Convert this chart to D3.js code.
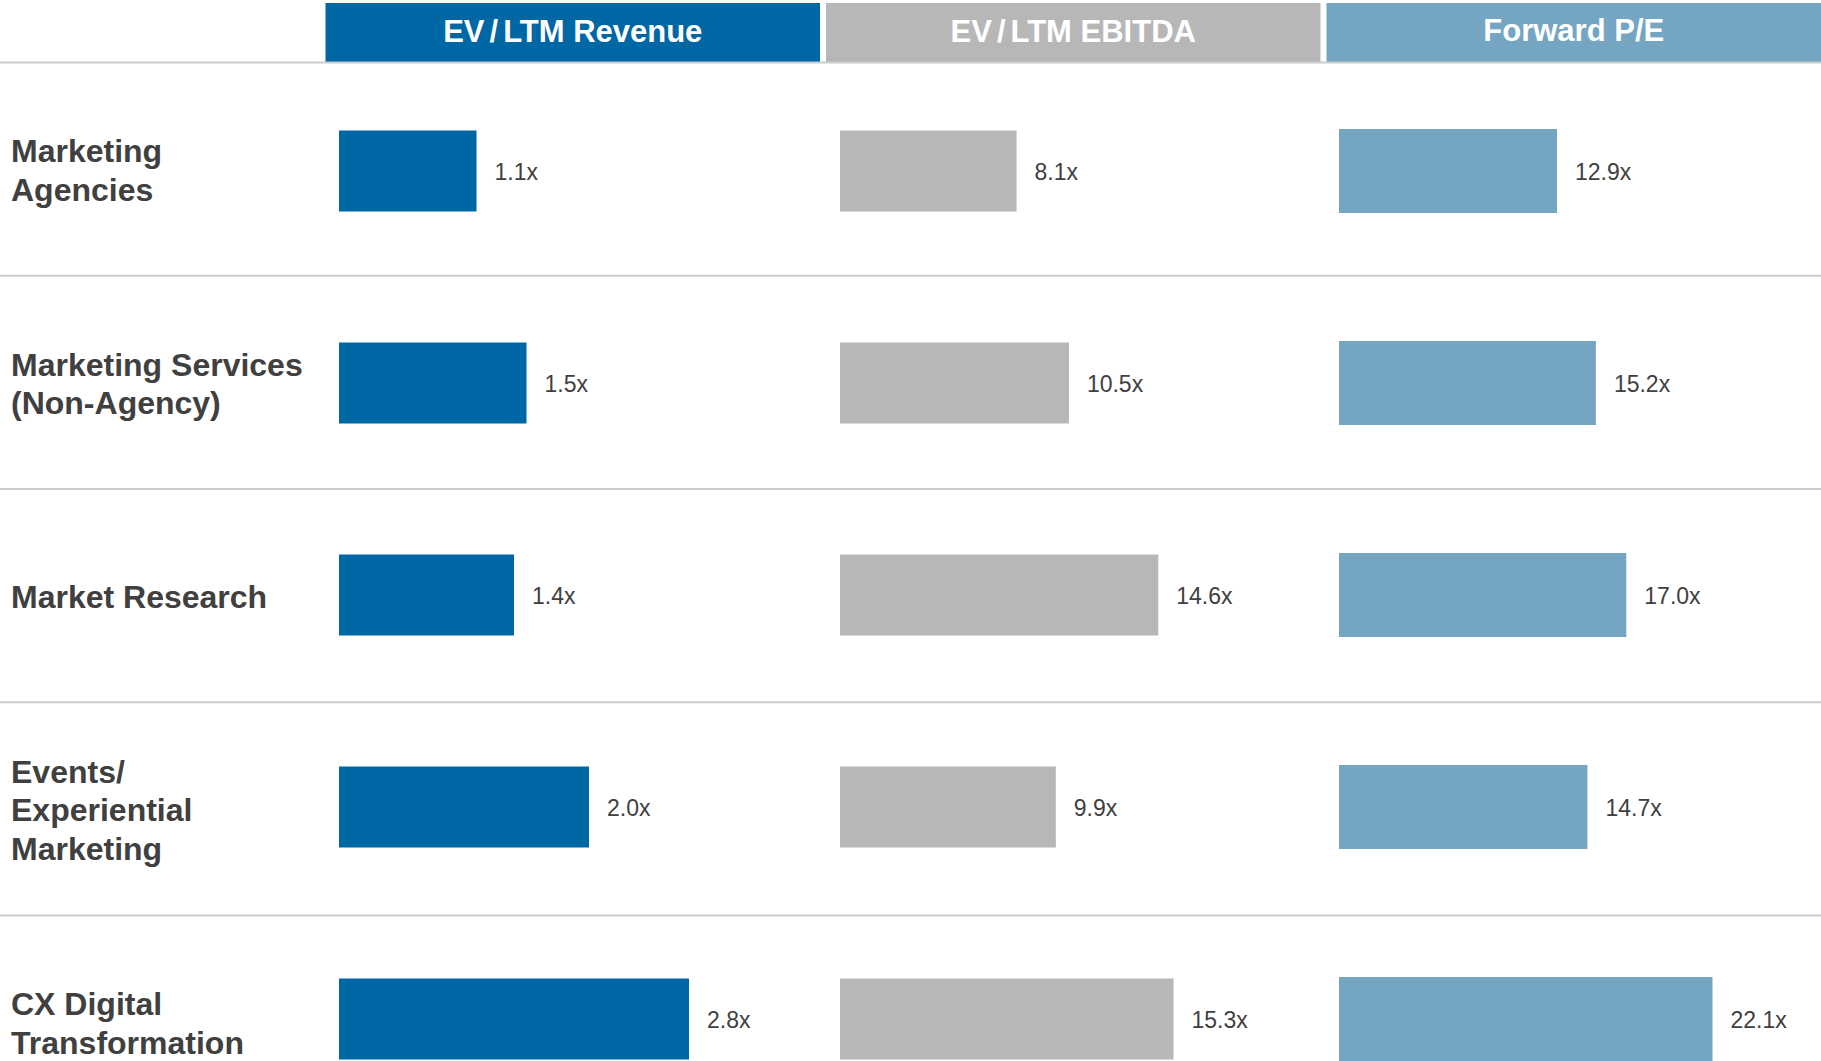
<!DOCTYPE html>
<html>
<head>
<meta charset="utf-8">
<script src="https://cdn.jsdelivr.net/npm/d3@7"></script>
<style>
  html, body { margin: 0; padding: 0; background: #fff; }
  svg { display: block; font-family: "Liberation Sans", Arial, sans-serif; }
</style>
</head>
<body>
<svg id="chart" width="1821" height="1061"></svg>
<script>
// row categories (label lines as shown on the slide)
const categories = ['Marketing Agencies', 'Marketing Services (Non-Agency)', 'Market Research',
    'Events/ Experiential Marketing', 'CX Digital Transformation'];
const categoryLines = [
    ['Marketing', 'Agencies'],
    ['Marketing Services', '(Non-Agency)'],
    ['Market Research'],
    ['Events/', 'Experiential', 'Marketing'],
    ['CX Digital', 'Transformation']
];

// column headers
const metrics = ['EV/LTM Revenue', 'EV/LTM EBITDA', 'Forward P/E'];

// multiples per category
const evRevenue = [1.1, 1.5, 1.4, 2.0, 2.8];
const evEbitda = [8.1, 10.5, 14.6, 9.9, 15.3];
const forwardPE = [12.9, 15.2, 17.0, 14.7, 22.1];

const series = [evRevenue, evEbitda, forwardPE];
const colors = ['#0067a5', '#b7b7b7', '#74a6c4'];

const width = 1821;
const headerTop = 3, headerBottom = 62;
const rowHeight = 213.25;
const textColor = '#404040';

const svg = d3.select('#chart');

// header column bands
const colX = d3.scaleOrdinal()
    .domain(metrics)
    .range([325.5, 826, 1326.5]);
const colW = 494.5;

// row bands (rules + labels)
const y = d3.scaleBand()
    .domain(categories)
    .range([headerBottom, headerBottom + rowHeight * categories.length])
    .padding(0);

// bar centres sit on a slightly tighter pitch than the rules
const yBar = d3.scalePoint()
    .domain(categories)
    .range([171, 171 + 212 * (categories.length - 1)]);

// per-column value scales (each column has its own scale on the slide)
const xScales = [
    d3.scaleLinear().domain([0, 3]).range([0, 375]),
    d3.scaleLinear().domain([0, 20]).range([0, 436]),
    d3.scaleLinear().domain([0, 25]).range([0, 422.5])
];
const barStart = [339, 840, 1339];
const barHeights = [81, 81, 84];

// header cells
let header = svg.append('g');
header.selectAll('rect')
    .data(metrics)
    .join('rect')
    .attr('x', d => colX(d))
    .attr('y', headerTop)
    .attr('width', colW)
    .attr('height', headerBottom - headerTop)
    .attr('fill', (d, i) => colors[i]);

let headerText = header.selectAll('text')
    .data(metrics)
    .join('text')
    .attr('x', d => colX(d) + colW / 2)
    .attr('y', 30.5)
    .attr('text-anchor', 'middle')
    .attr('dominant-baseline', 'central')
    .attr('fill', '#fff')
    .style('font-size', '31px')
    .style('font-weight', 'bold');

// the EV headers have a bit of air around the slash
headerText.each(function(d) {
    let t = d3.select(this);
    if (d.startsWith('EV/')) {
        let parts = d.split('/');
        t.append('tspan').text(parts[0]);
        t.append('tspan').attr('dx', 5).text('/');
        t.append('tspan').attr('dx', 5).text(parts[1]);
    } else {
        t.text(d);
    }
});

// horizontal rules: under header and between rows
let rules = [headerBottom].concat(categories.slice(1).map(c => y(c)));
svg.append('g')
    .selectAll('line')
    .data(rules)
    .join('line')
    .attr('x1', 0)
    .attr('x2', width)
    .attr('y1', d => d + 0.5)
    .attr('y2', d => d + 0.5)
    .attr('stroke', '#cbcbcb')
    .attr('stroke-width', 2);

// row labels
let labels = svg.append('g')
    .selectAll('text')
    .data(categories)
    .join('text')
    .attr('x', 11)
    .attr('fill', textColor)
    .style('font-size', '32px')
    .style('font-weight', 'bold');

labels.each(function(d, i) {
    let lines = categoryLines[i];
    let cy = y(d) + y.bandwidth() / 2 + 2;
    let lh = 38.5;
    d3.select(this).selectAll('tspan')
        .data(lines)
        .join('tspan')
        .attr('x', 11)
        .attr('y', (l, j) => cy + (j - (lines.length - 1) / 2) * lh)
        .attr('dominant-baseline', 'central')
        .text(l => l);
});

// bars + value labels, one group per metric
series.forEach((vals, k) => {
    let g = svg.append('g');
    let sx = xScales[k];
    g.selectAll('rect')
        .data(vals)
        .join('rect')
        .attr('x', barStart[k])
        .attr('y', (v, i) => yBar(categories[i]) - barHeights[k] / 2)
        .attr('width', v => sx(v))
        .attr('height', barHeights[k])
        .attr('fill', colors[k]);

    g.selectAll('text')
        .data(vals)
        .join('text')
        .attr('x', v => barStart[k] + sx(v) + 18)
        .attr('y', (v, i) => yBar(categories[i]) + 1)
        .attr('dominant-baseline', 'central')
        .attr('fill', textColor)
        .style('font-size', '23px')
        .text(v => d3.format('.1f')(v) + 'x');
});
</script>
</body>
</html>
